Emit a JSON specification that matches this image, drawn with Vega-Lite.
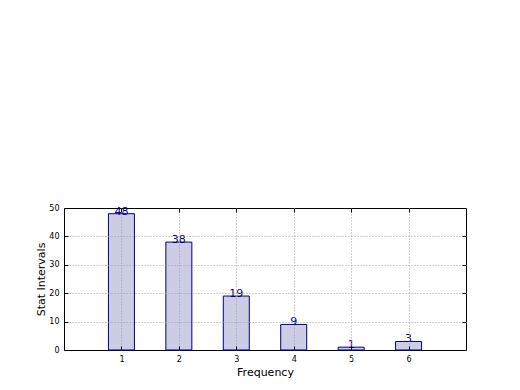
{
  "$schema": "https://vega.github.io/schema/vega-lite/v6.json",
  "width": 402,
  "height": 142,
  "autosize": {"type": "none"},
  "padding": {"left": 64, "top": 208, "right": 54, "bottom": 40},
  "background": "white",
  "config": {
    "view": {"stroke": "black", "strokeWidth": 1},
    "font": "DejaVu Sans"
  },
  "data": {"values": [
    {"freq": 1, "count": 48},
    {"freq": 2, "count": 38},
    {"freq": 3, "count": 19},
    {"freq": 4, "count": 9},
    {"freq": 5, "count": 1},
    {"freq": 6, "count": 3}
  ]},
  "resolve": {"axis": {"x": "independent", "y": "independent"}},
  "layer": [
    {
      "mark": {"type": "bar", "size": 26, "fill": "#ccccE5", "stroke": "#000080", "strokeWidth": 1},
      "encoding": {
        "x": {
          "field": "freq", "type": "quantitative",
          "scale": {"domain": [0, 7], "nice": false, "zero": false, "padding": 0},
          "axis": {
            "orient": "bottom",
            "title": "Frequency", "values": [1, 2, 3, 4, 5, 6],
            "grid": true, "gridColor": "#a0a0a0", "gridDash": [1, 2], "gridWidth": 1,
            "zindex": 1, "domain": false,
            "tickSize": -4, "tickColor": "black", "labelPadding": 9,
            "labelFontSize": 8, "labelColor": "black", "labelFont": "DejaVu Sans",
            "titleFontSize": 11, "titleFontWeight": "normal", "titleColor": "black", "titlePadding": 3, "titleFont": "DejaVu Sans"
          }
        },
        "y": {
          "field": "count", "type": "quantitative",
          "scale": {"domain": [0, 50], "nice": false, "padding": 0},
          "axis": {
            "orient": "left",
            "title": "Stat Intervals", "values": [0, 10, 20, 30, 40, 50],
            "grid": false, "zindex": 1, "domain": false,
            "tickSize": -4, "tickColor": "black", "labelPadding": 9,
            "labelFontSize": 8, "labelColor": "black", "labelFont": "DejaVu Sans",
            "titleFontSize": 11, "titleFontWeight": "normal", "titleColor": "black", "titlePadding": 2, "titleFont": "DejaVu Sans"
          }
        }
      }
    },
    {
      "mark": {"type": "text", "color": "#000080", "fontSize": 11, "baseline": "alphabetic", "dy": 1, "font": "DejaVu Sans"},
      "encoding": {
        "x": {
          "field": "freq", "type": "quantitative",
          "axis": {
            "orient": "top", "title": null, "values": [1, 2, 3, 4, 5, 6],
            "grid": false, "labels": false, "domain": false, "zindex": 1,
            "tickSize": -4, "tickColor": "black"
          }
        },
        "y": {
          "field": "count", "type": "quantitative",
          "axis": {
            "orient": "right", "title": null, "values": [10, 20, 30, 40],
            "grid": true, "gridColor": "#a0a0a0", "gridDash": [1, 2], "gridWidth": 1,
            "labels": false, "domain": false, "zindex": 1,
            "tickSize": -4, "tickColor": "black"
          }
        },
        "text": {"field": "count", "type": "quantitative"}
      }
    }
  ]
}
